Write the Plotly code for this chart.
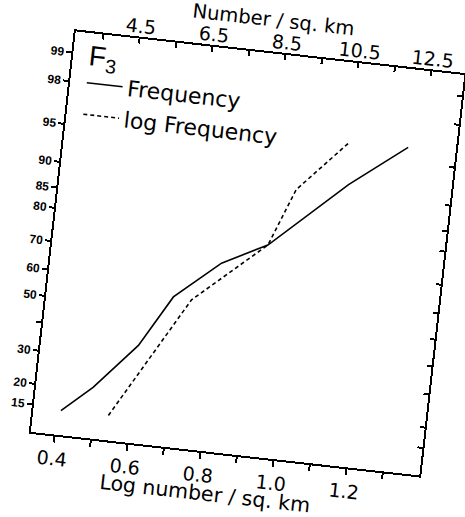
import plotly.graph_objects as go
from statistics import NormalDist

# ---- data ----
freq_x = [0.41, 0.49, 0.60, 0.68, 0.80, 0.92, 1.12, 1.27]
freq_p = [14.3, 20.8, 35.6, 55.0, 69.0, 76.3, 91.5, 96.3]

logfreq_x = [0.54, 0.73, 0.92, 0.98, 1.11]
logfreq_p = [14.4, 54.7, 76.3, 89.8, 96.2]

y_tick_p = [15, 20, 30, 40, 50, 60, 70, 80, 85, 90, 95, 98, 99]
y_tick_text = ["15", "20", "30", "", "50", "60", "70", "80", "85", "90", "95", "98", "99"]

bottom_ticks = [0.4, 0.5, 0.6, 0.7, 0.8, 0.9, 1.0, 1.1, 1.2, 1.3]
bottom_text = ["0.4", "", "0.6", "", "0.8", "", "1.0", "", "1.2", ""]

top_ticks = [3.5, 4.5, 5.5, 6.5, 7.5, 8.5, 9.5, 10.5, 11.5, 12.5]
top_text = ["", "4.5", "", "6.5", "", "8.5", "", "10.5", "", "12.5"]

# probability scale -> normal quantile
nd = NormalDist()
def probit(vals):
    return [nd.inv_cdf(v / 100.0) for v in vals]

Y_RANGE = [-1.30, 2.53]
X_RANGE = [0.335, 1.40]
X2_RANGE = [2.75, 13.4]

FONT = "DejaVu Sans, Liberation Sans, Arial, sans-serif"
YFONT = "Liberation Sans, Arial, sans-serif"

fig = go.Figure()
fig.add_trace(go.Scatter(
    x=freq_x, y=probit(freq_p), mode="lines", name="Frequency",
    line=dict(color="black", width=1.6)))
fig.add_trace(go.Scatter(
    x=logfreq_x, y=probit(logfreq_p), mode="lines", name="log Frequency",
    yaxis="y2", line=dict(color="black", width=1.6, dash="4px,3px")))
# helper trace so the top axis is drawn
fig.add_trace(go.Scatter(
    x=top_ticks, y=[None] * len(top_ticks), xaxis="x2", mode="lines",
    showlegend=False, hoverinfo="skip"))

axis_common = dict(showline=True, linecolor="black", linewidth=2,
                   showgrid=False, zeroline=False, tickcolor="black")

fig.update_layout(
    width=465, height=517, autosize=False,
    margin=dict(l=52, r=22, t=52, b=62),
    paper_bgcolor="white", plot_bgcolor="white",
    font=dict(family=FONT, color="black"),
    showlegend=True,
    legend=dict(x=0.03, y=0.928, xanchor="left", yanchor="top",
                bgcolor="rgba(0,0,0,0)", font=dict(size=22, family=FONT),
                itemwidth=36, tracegroupgap=0),
    xaxis=dict(range=X_RANGE, tickvals=bottom_ticks, ticktext=bottom_text,
               ticks="outside", ticklen=6, tickwidth=1.5,
               tickfont=dict(size=19), ticklabelstandoff=0, **axis_common),
    xaxis2=dict(range=X2_RANGE, tickvals=top_ticks, ticktext=top_text,
                overlaying="x", side="top", anchor="y",
                ticks="inside", ticklen=5, tickwidth=1.5,
                tickfont=dict(size=19), ticklabelstandoff=-4, **axis_common),
    yaxis=dict(range=Y_RANGE, tickvals=probit(y_tick_p), ticktext=y_tick_text,
               ticks="outside", ticklen=5, tickwidth=1.5,
               tickfont=dict(size=12, weight="bold", family=YFONT), **axis_common),
    yaxis2=dict(range=Y_RANGE, tickvals=probit(y_tick_p), ticktext=y_tick_text,
                overlaying="y", side="right", anchor="x",
                ticks="inside", ticklen=5, tickwidth=1.5,
                showticklabels=False, **axis_common),
    annotations=[
        dict(text="Number / sq. km", xref="paper", yref="paper",
             x=0.5, y=1.084, xanchor="center", yanchor="middle",
             showarrow=False, font=dict(size=19.5)),
        dict(text="Log number / sq. km", xref="paper", yref="paper",
             x=0.46, y=-0.104, xanchor="center", yanchor="middle",
             showarrow=False, font=dict(size=20.5)),
        dict(text="F<sub>3</sub>", xref="paper", yref="paper",
             x=0.036, y=0.938, xanchor="left", yanchor="middle",
             showarrow=False, font=dict(size=28, family=YFONT)),
    ],
)

post = ("var d=document.getElementById('{plot_id}');"
        "d.style.transformOrigin='248px 254px';"
        "d.style.transform='rotate(6.4deg)';")
fig.write_html("out.html", post_script=post)
